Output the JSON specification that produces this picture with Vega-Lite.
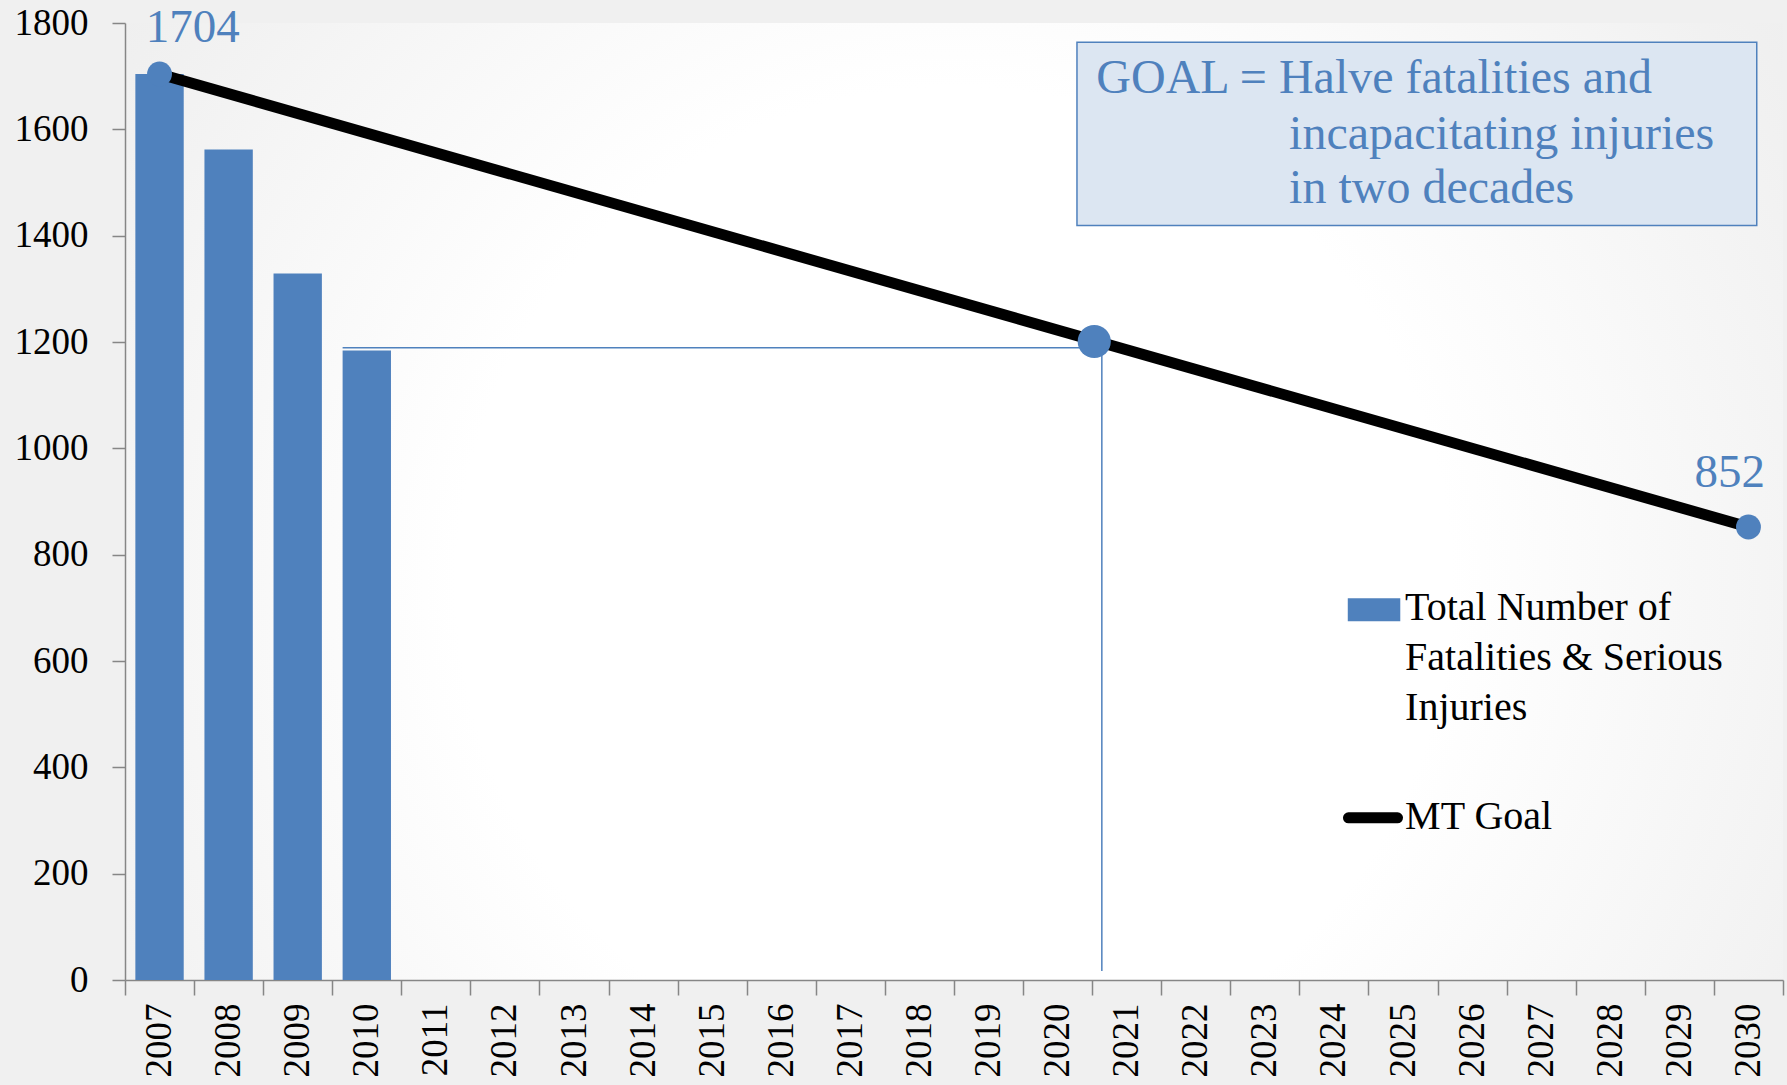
{
  "$schema": "https://vega.github.io/schema/vega-lite/v6.json",
  "width": 1658,
  "height": 957,
  "autosize": {"type": "none"},
  "padding": {"left": 125, "top": 23, "right": 4, "bottom": 105},
  "background": "#f0f0f0",
  "config": {
    "view": {
      "stroke": null,
      "fill": {
        "gradient": "radial",
        "x1": 0.5, "y1": 0.55, "r1": 0,
        "x2": 0.5, "y2": 0.55, "r2": 0.75,
        "stops": [
          {"offset": 0, "color": "#ffffff"},
          {"offset": 0.4, "color": "#ffffff"},
          {"offset": 0.75, "color": "#f1f1f1"},
          {"offset": 1, "color": "#e9e9e9"}
        ]
      }
    },
    "font": "Liberation Serif"
  },
  "datasets": {
    "bars": [
      {"year": "2007", "count": 1704},
      {"year": "2008", "count": 1562},
      {"year": "2009", "count": 1329},
      {"year": "2010", "count": 1184}
    ],
    "goal": [
      {"year": "2007", "goal": 1704},
      {"year": "2030", "goal": 852}
    ]
  },
  "layer": [
    {
      "data": {"name": "bars"},
      "mark": {"type": "bar", "color": "#4f81bd", "width": {"band": 0.7}},
      "encoding": {
        "x": {
          "field": "year", "type": "ordinal", "title": null,
          "scale": {
            "domain": ["2007","2008","2009","2010","2011","2012","2013","2014","2015","2016","2017","2018","2019","2020","2021","2022","2023","2024","2025","2026","2027","2028","2029","2030"],
            "paddingInner": 0, "paddingOuter": 0
          },
          "axis": {
            "labelAngle": -90, "labelFont": "Liberation Serif", "labelFontSize": 37, "labelColor": "#000000",
            "tickBand": "extent", "tickSize": 15, "tickColor": "#868686", "tickWidth": 1.5,
            "domainColor": "#868686", "domainWidth": 1.5, "labelPadding": 8, "grid": false
          }
        },
        "y": {
          "field": "count", "type": "quantitative", "title": null,
          "scale": {"domain": [0, 1800], "nice": false},
          "axis": {
            "values": [0,200,400,600,800,1000,1200,1400,1600,1800],
            "format": "d",
            "labelFont": "Liberation Serif", "labelFontSize": 37, "labelColor": "#000000",
            "tickSize": 13, "tickColor": "#868686", "tickWidth": 1.5,
            "domainColor": "#868686", "domainWidth": 1.5, "labelPadding": 24, "grid": false
          }
        }
      }
    },
    {
      "data": {"values": [{}]},
      "mark": {"type": "rule", "color": "#4f81bd", "strokeWidth": 1.5},
      "encoding": {
        "x": {"datum": "2010", "type": "ordinal", "bandPosition": 0.15, "title": null},
        "x2": {"datum": "2021", "bandPosition": 0},
        "y": {"datum": 1189, "type": "quantitative", "title": null}
      }
    },
    {
      "data": {"values": [{}]},
      "mark": {"type": "rule", "color": "#4f81bd", "strokeWidth": 1.5},
      "encoding": {
        "x": {"datum": "2021", "type": "ordinal", "bandPosition": 0.14, "title": null},
        "y": {"datum": 1189, "type": "quantitative", "title": null},
        "y2": {"datum": 17}
      }
    },
    {
      "data": {"name": "goal"},
      "mark": {"type": "line", "color": "#000000", "strokeWidth": 11},
      "encoding": {
        "x": {"field": "year", "type": "ordinal", "title": null},
        "y": {"field": "goal", "type": "quantitative", "title": null}
      }
    },
    {
      "data": {"name": "goal"},
      "mark": {"type": "circle", "color": "#4f81bd", "opacity": 1, "size": 620},
      "encoding": {
        "x": {"field": "year", "type": "ordinal", "title": null},
        "y": {"field": "goal", "type": "quantitative", "title": null}
      }
    },
    {
      "data": {"values": [{}]},
      "mark": {"type": "circle", "color": "#4f81bd", "opacity": 1, "size": 1100},
      "encoding": {
        "x": {"datum": "2021", "type": "ordinal", "bandPosition": 0.03, "title": null},
        "y": {"datum": 1201, "type": "quantitative", "title": null}
      }
    },
    {
      "data": {"values": [{}]},
      "mark": {"type": "rect", "fill": "#dce6f2", "stroke": "#4f81bd", "strokeWidth": 1.5},
      "encoding": {
        "x": {"datum": "2020", "type": "ordinal", "bandPosition": 0.78, "title": null},
        "x2": {"datum": "2030", "bandPosition": 0.62},
        "y": {"datum": 1764, "type": "quantitative", "title": null},
        "y2": {"datum": 1419}
      }
    },
    {
      "data": {"values": [{}]},
      "mark": {"type": "text", "text": "GOAL = Halve fatalities and", "align": "left", "baseline": "middle", "font": "Liberation Serif", "fontSize": 48, "color": "#4f81bd"},
      "encoding": {
        "x": {"datum": "2021", "type": "ordinal", "bandPosition": 0.06, "title": null},
        "y": {"datum": 1695, "type": "quantitative", "title": null}
      }
    },
    {
      "data": {"values": [{}]},
      "mark": {"type": "text", "text": ["incapacitating injuries", "in two decades"], "lineHeight": 54, "align": "left", "baseline": "middle", "font": "Liberation Serif", "fontSize": 48, "color": "#4f81bd"},
      "encoding": {
        "x": {"datum": "2023", "type": "ordinal", "bandPosition": 0.85, "title": null},
        "y": {"datum": 1590, "type": "quantitative", "title": null}
      }
    },
    {
      "data": {"values": [{}]},
      "mark": {"type": "text", "text": "1704", "align": "left", "baseline": "middle", "font": "Liberation Serif", "fontSize": 47, "color": "#4f81bd"},
      "encoding": {
        "x": {"datum": "2007", "type": "ordinal", "bandPosition": 0.3, "title": null},
        "y": {"datum": 1790, "type": "quantitative", "title": null}
      }
    },
    {
      "data": {"values": [{}]},
      "mark": {"type": "text", "text": "852", "align": "left", "baseline": "middle", "font": "Liberation Serif", "fontSize": 47, "color": "#4f81bd"},
      "encoding": {
        "x": {"datum": "2029", "type": "ordinal", "bandPosition": 0.72, "title": null},
        "y": {"datum": 953, "type": "quantitative", "title": null}
      }
    },
    {
      "data": {"values": [{}]},
      "mark": {"type": "rect", "fill": "#4f81bd"},
      "encoding": {
        "x": {"datum": "2024", "type": "ordinal", "bandPosition": 0.7, "title": null},
        "x2": {"datum": "2025", "bandPosition": 0.46},
        "y": {"datum": 718, "type": "quantitative", "title": null},
        "y2": {"datum": 675}
      }
    },
    {
      "data": {"values": [{}]},
      "mark": {"type": "text", "text": ["Total Number of", "Fatalities & Serious", "Injuries"], "lineHeight": 50, "align": "left", "baseline": "middle", "font": "Liberation Serif", "fontSize": 40, "color": "#000000"},
      "encoding": {
        "x": {"datum": "2025", "type": "ordinal", "bandPosition": 0.53, "title": null},
        "y": {"datum": 699, "type": "quantitative", "title": null}
      }
    },
    {
      "data": {"values": [{}]},
      "mark": {"type": "rule", "color": "#000000", "strokeWidth": 11, "strokeCap": "round"},
      "encoding": {
        "x": {"datum": "2024", "type": "ordinal", "bandPosition": 0.71, "title": null},
        "x2": {"datum": "2025", "bandPosition": 0.42},
        "y": {"datum": 305, "type": "quantitative", "title": null}
      }
    },
    {
      "data": {"values": [{}]},
      "mark": {"type": "text", "text": "MT Goal", "align": "left", "baseline": "middle", "font": "Liberation Serif", "fontSize": 40, "color": "#000000"},
      "encoding": {
        "x": {"datum": "2025", "type": "ordinal", "bandPosition": 0.53, "title": null},
        "y": {"datum": 307, "type": "quantitative", "title": null}
      }
    }
  ]
}
